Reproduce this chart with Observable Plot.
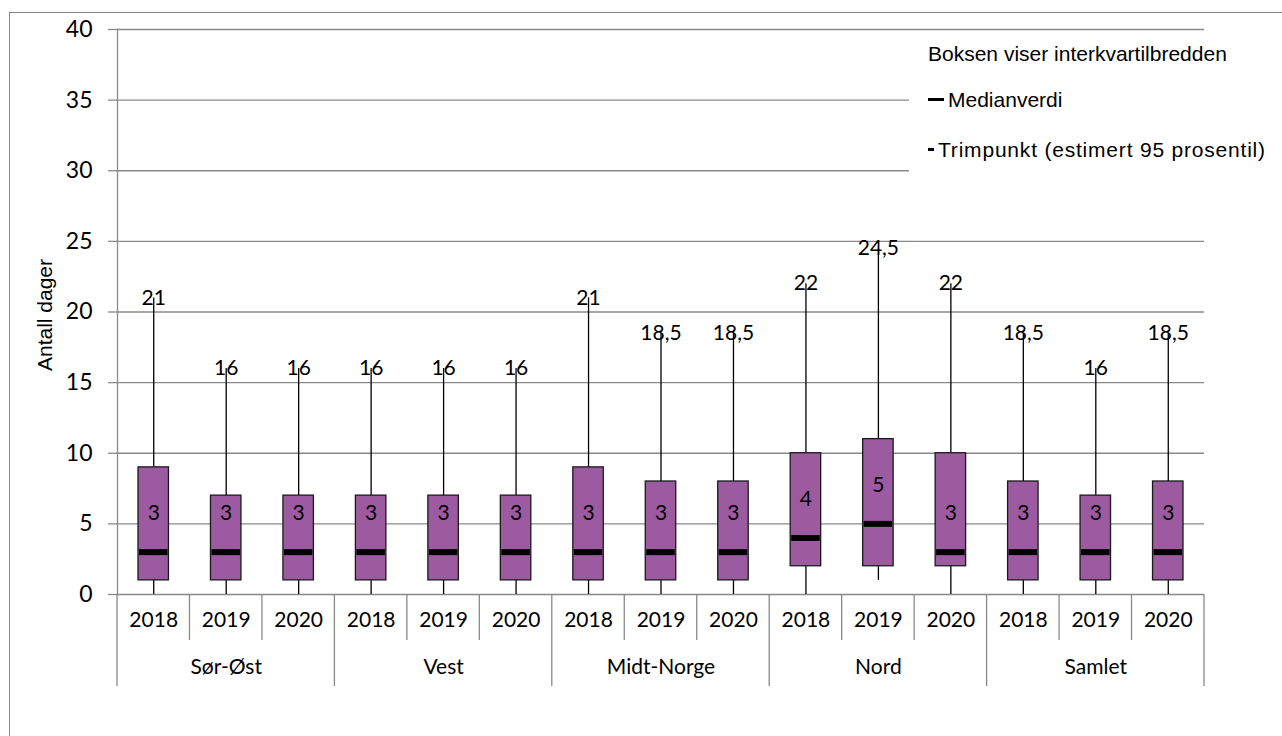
<!DOCTYPE html>
<html><head><meta charset="utf-8">
<script src="https://cdn.jsdelivr.net/npm/d3@7"></script>
<script src="https://cdn.jsdelivr.net/npm/@observablehq/plot@0.6"></script>
<style>
html,body{margin:0;padding:0;background:#fff;}
#wrap{position:relative;width:1282px;height:736px;overflow:hidden;background:#fff;}
#frame{position:absolute;left:9px;top:12px;width:1300px;height:800px;border-left:1.3px solid #898989;border-top:1.3px solid #898989;box-sizing:border-box;}
#chart{position:absolute;left:0;top:0;}
#legend{position:absolute;left:909px;top:34px;width:372px;height:166px;background:#fff;font-family:"Liberation Sans",Arial,sans-serif;font-size:21px;color:#000;}
#legend .row{position:absolute;left:19px;white-space:nowrap;line-height:24px;}
#legend .dash{display:inline-block;vertical-align:middle;background:#000;position:relative;top:-2px;}
</style></head>
<body>
<div id="wrap">
  <div id="frame"></div>
  <div id="chart"></div>
  <div id="legend">
    <div class="row" style="top:8px">Boksen viser interkvartilbredden</div>
    <div class="row" style="top:54px"><span class="dash" style="width:16px;height:3px;margin-right:4px"></span>Medianverdi</div>
    <div class="row" style="top:104px;letter-spacing:0.8px"><span class="dash" style="width:6px;height:3px;margin-right:4px"></span>Trimpunkt (estimert 95 prosentil)</div>
  </div>
</div>
<script>
const regions = ["Sør-Øst", "Vest", "Midt-Norge", "Nord", "Samlet"];
const years = ["2018", "2019", "2020"];
const minV   = [0, 0, 0,   0, 0, 0,   0, 0, 0,       0, 1, 0,     0, 0, 0];
const q1     = [1, 1, 1,   1, 1, 1,   1, 1, 1,       2, 2, 2,     1, 1, 1];
const median = [3, 3, 3,   3, 3, 3,   3, 3, 3,       4, 5, 3,     3, 3, 3];
const q3     = [9, 7, 7,   7, 7, 7,   9, 8, 8,       10, 11, 10,  8, 7, 8];
const trim   = [21, 16, 16, 16, 16, 16, 21, 18.5, 18.5, 22, 24.5, 22, 18.5, 16, 18.5];
const yTicks = [0, 5, 10, 15, 20, 25, 30, 35, 40];
const yTitle = "Antall dager";

const fmt = v => String(v).replace(".", ",");
const keys = [];
regions.forEach(r => years.forEach(y => keys.push(r + "|" + y)));
const data = keys.map((k, i) => ({
  key: k, region: k.split("|")[0], year: k.split("|")[1],
  min: minV[i], q1: q1[i], med: median[i], q3: q3[i], trim: trim[i]
}));
const groups = regions.map(r => ({region: r, mid: r + "|" + years[1]}));

const purple = "#9c5aa0";
const grey = "#898989";
const calib = "Lato, 'Noto Sans', sans-serif";

const chart = Plot.plot({
  width: 1282, height: 736,
  marginLeft: 117, marginRight: 78, marginTop: 29, marginBottom: 142,
  style: {background: "transparent", overflow: "visible", fontFamily: calib},
  x: {type: "band", domain: keys, padding: 0, round: false, axis: null},
  y: {domain: [0, 40], axis: null},
  marks: [
    Plot.gridY(yTicks, {stroke: grey, strokeOpacity: 1, strokeWidth: 1.3}),
    Plot.axisY(yTicks, {tickSize: 9, tickPadding: 16, fontSize: 23, stroke: grey, strokeWidth: 1.3, fill: "#000", label: null, fontFamily: calib}),
    Plot.frame({anchor: "left", stroke: grey, strokeWidth: 1.3}),
    Plot.ruleX(data, {x: "key", y1: "min", y2: "q1", stroke: "#000", strokeWidth: 1.3}),
    Plot.ruleX(data, {x: "key", y1: "q3", y2: "trim", stroke: "#000", strokeWidth: 1.3}),
    Plot.barY(data, {x: "key", y1: "q1", y2: "q3", fill: purple, stroke: "#1a1a1a", strokeWidth: 1.3, insetLeft: 21, insetRight: 21}),
    Plot.tickY(data, {x: "key", y: "med", stroke: "#000", strokeWidth: 6, insetLeft: 22, insetRight: 22}),
    Plot.text(data, {x: "key", y: "trim", text: d => fmt(d.trim), fontSize: 21, fill: "#000", fontFamily: calib}),
    Plot.text(data, {x: "key", y: "med", text: d => fmt(d.med), dy: -39, fontSize: 21, fill: "#000", fontFamily: calib}),
    Plot.text(data, {x: "key", text: "year", frameAnchor: "bottom", dy: 32, fontSize: 21, fill: "#000", fontFamily: calib}),
    Plot.text(groups, {x: "mid", text: "region", frameAnchor: "bottom", dy: 79, fontSize: 21, fill: "#000", fontFamily: calib}),
    Plot.text([yTitle], {text: d => d, frameAnchor: "left", textAnchor: "middle", dx: -72, dy: 3, rotate: -90, fontSize: 21, fill: "#000", fontFamily: "'Liberation Sans', Arial, sans-serif", letterSpacing: "2px"})
  ]
});

// category axis separators drawn with the plot's own scales
const xs = chart.scale("x"), ys = chart.scale("y");
const bw = xs.bandwidth;
const y0 = ys.apply(0);
const svg = d3.select(chart);
const sep = svg.append("g").attr("stroke", grey).attr("stroke-width", 1.3);
keys.forEach((k, i) => {
  const x = xs.apply(k);
  const len = (i % 3 === 0) ? 92 : 46;
  sep.append("line").attr("x1", x).attr("x2", x).attr("y1", y0).attr("y2", y0 + len);
});
const xEnd = xs.apply(keys[keys.length - 1]) + bw;
sep.append("line").attr("x1", xEnd).attr("x2", xEnd).attr("y1", y0).attr("y2", y0 + 92);

document.getElementById("chart").appendChild(chart);
</script>
</body></html>
